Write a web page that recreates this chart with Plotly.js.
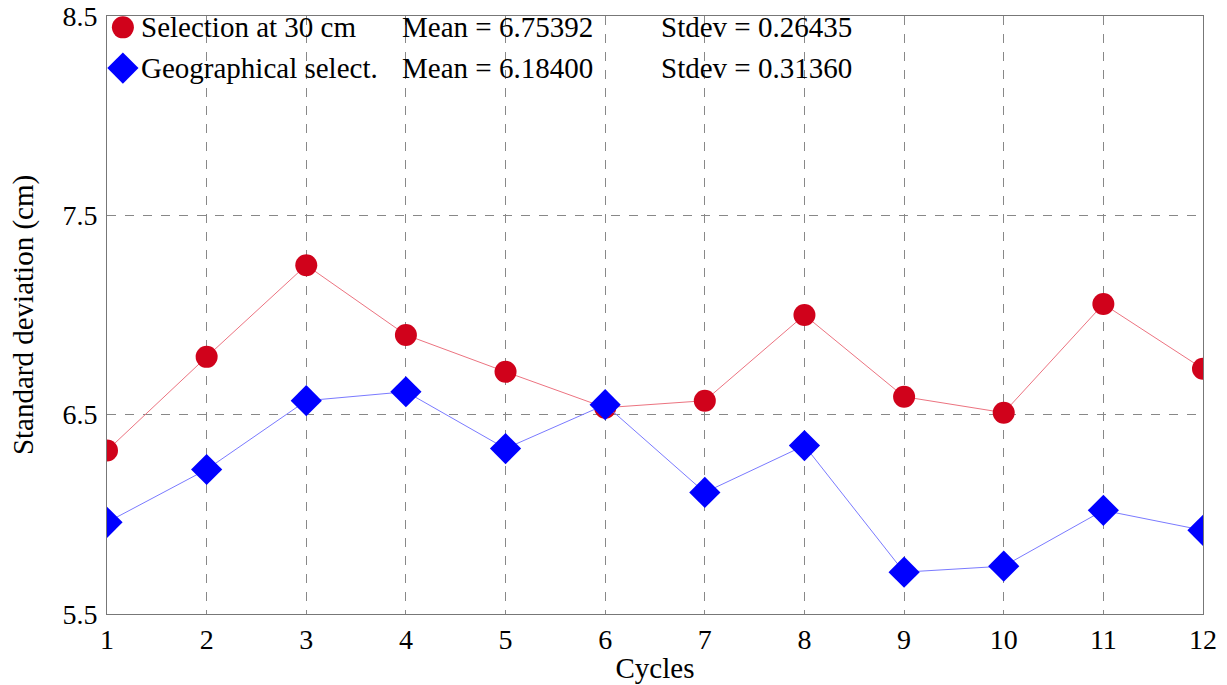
<!DOCTYPE html>
<html><head><meta charset="utf-8">
<script src="https://cdn.plot.ly/plotly-3.0.1.min.js"></script>
<style>body{margin:0;background:#fff}#c{width:1227px;height:685px}</style>
</head><body><div id="c"></div>
<script>
const cycles = [1,2,3,4,5,6,7,8,9,10,11,12];
const selection30 = [6.32,6.79,7.25,6.90,6.715,6.535,6.57,7.00,6.59,6.51,7.055,6.73];
const geographical = [5.96,6.225,6.57,6.615,6.33,6.55,6.11,6.345,5.71,5.74,6.02,5.92];
const seriesNames = ["Selection at 30 cm","Geographical select."];
const meanLabels = ["Mean = 6.75392","Mean = 6.18400"];
const stdevLabels = ["Stdev = 0.26435","Stdev = 0.31360"];
const yTicks = [5.5,6.5,7.5,8.5];

const fam = "Liberation Serif, Times New Roman, serif";
const font = {family:fam, size:29, color:"#000"};
const tickFont = {family:fam, size:28, color:"#000"};
const redM = "#d0021b", redL = "#ec7380", blueM = "#0000ff", blueL = "#7a7aff";

const traces = [
  {x:cycles, y:selection30, mode:"lines+markers", type:"scatter", name:seriesNames[0],
   line:{color:redL,width:1}, marker:{symbol:"circle",size:22,color:redM}},
  {x:cycles, y:geographical, mode:"lines+markers", type:"scatter", name:seriesNames[1],
   line:{color:blueL,width:1}, marker:{symbol:"diamond",size:24,color:blueM}},
  {x:[0.0145], y:[0.981], xaxis:"x2", yaxis:"y2", mode:"markers", marker:{symbol:"circle",size:22,color:redM}, hoverinfo:"skip"},
  {x:[0.0145], y:[0.913], xaxis:"x2", yaxis:"y2", mode:"markers", marker:{symbol:"diamond",size:24,color:blueM}, hoverinfo:"skip"}
];

const ann = [];
const rowsY = [0.981,0.913];
for (let i=0;i<2;i++){
  ann.push({xref:"paper",yref:"paper",x:0.0295,y:rowsY[i],xanchor:"left",yanchor:"middle",text:seriesNames[i],showarrow:false,font:font});
  ann.push({xref:"paper",yref:"paper",x:0.267,y:rowsY[i],xanchor:"left",yanchor:"middle",text:meanLabels[i],showarrow:false,font:font});
  ann.push({xref:"paper",yref:"paper",x:0.504,y:rowsY[i],xanchor:"left",yanchor:"middle",text:stdevLabels[i],showarrow:false,font:font});
}

const layout = {
  width:1227, height:685,
  margin:{l:107,r:24,t:16,b:71},
  paper_bgcolor:"#fff", plot_bgcolor:"#fff",
  showlegend:false,
  font:font,
  xaxis:{range:[1,12], tickvals:cycles, ticks:"", showgrid:true, gridcolor:"#888", griddash:"dash", gridwidth:1,
    zeroline:false, showline:true, linecolor:"#777", mirror:true, tickfont:tickFont, ticklabelstandoff:0,
    title:{text:"Cycles", font:font, standoff:4}},
  yaxis:{range:[5.5,8.5], tickvals:yTicks, ticktext:yTicks.map(v=>v.toFixed(1)), ticks:"", showgrid:true, gridcolor:"#888", griddash:"dash", gridwidth:1,
    zeroline:false, showline:true, linecolor:"#777", mirror:true, tickfont:tickFont, ticklabelstandoff:3,
    title:{text:"Standard deviation (cm)", font:font, standoff:20}},
  xaxis2:{overlaying:"x", range:[0,1], visible:false},
  yaxis2:{overlaying:"y", range:[0,1], visible:false},
  annotations:ann
};
Plotly.newPlot("c", traces, layout, {displayModeBar:false, staticPlot:true});
</script></body></html>
